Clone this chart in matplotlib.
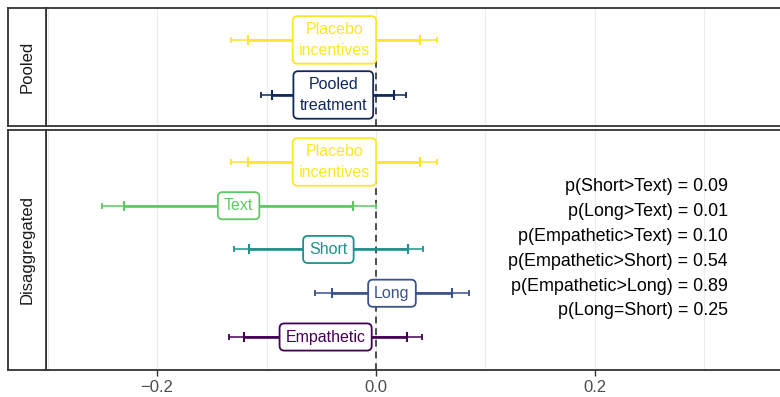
import matplotlib.pyplot as plt
import numpy as np

plt.rcParams['font.family'] = ['Liberation Sans', 'DejaVu Sans']

# pooled panel (rows from bottom to top)
pooled_labels = ["Pooled\ntreatment", "Placebo\nincentives"]
pooled_est = [-0.039, -0.038]
pooled_lo95 = [-0.105, -0.132]
pooled_hi95 = [0.027, 0.056]
pooled_lo_in = [-0.095, -0.117]
pooled_hi_in = [0.016, 0.040]
pooled_colors = ["#11295A", "#FDE725"]

# disaggregated panel (rows from bottom to top)
dis_labels = ["Empathetic", "Long", "Short", "Text", "Placebo\nincentives"]
dis_est = [-0.046, 0.0146, -0.0435, -0.1255, -0.038]
dis_lo95 = [-0.1342, -0.0557, -0.1297, -0.2505, -0.132]
dis_hi95 = [0.0423, 0.0849, 0.0426, 0.0, 0.056]
dis_lo_in = [-0.1203, -0.0399, -0.1157, -0.2304, -0.117]
dis_hi_in = [0.0286, 0.0697, 0.0289, -0.0207, 0.040]
dis_colors = ["#440154", "#3B528B", "#21918C", "#5EC962", "#FDE725"]

pvals = ["p(Short>Text) = 0.09", "p(Long>Text) = 0.01", "p(Empathetic>Text) = 0.10",
         "p(Empathetic>Short) = 0.54", "p(Empathetic>Long) = 0.89", "p(Long=Short) = 0.25"]

W, H = 780, 397
fig = plt.figure(figsize=(W / 100, H / 100), dpi=100)

def px_box(x0, y0, x1, y1):
    return [x0 / W, 1 - y1 / H, (x1 - x0) / W, (y1 - y0) / H]

xlim = (-0.3014, 0.369)
edge = "#333333"

def draw_panel(ax, labels, est, lo95, hi95, lo_in, hi_in, colors, ylim, bottom_axis):
    ax.set_xlim(*xlim)
    ax.set_ylim(*ylim)
    for g in [-0.3, -0.2, -0.1, 0.0, 0.1, 0.2, 0.3]:
        ax.axvline(g, color="#EBEBEB", lw=0.8, zorder=0)
    ys = np.arange(1, len(labels) + 1)
    ax.vlines(0, ylim[0], ys[-1], color="#4D4D4D", lw=1.4, linestyles=(0, (3.5, 2.5)), zorder=1)
    for y, lab, e, a, b, c, d, col in zip(ys, labels, est, lo95, hi95, lo_in, hi_in, colors):
        ax.hlines(y, a, b, color=col, lw=1.1, zorder=2)
        ax.hlines(y, c, d, color=col, lw=1.9, zorder=2)
        ax.plot([a, b], [y, y], ls="none", marker="|", ms=4, mew=1.3, color=col, zorder=2)
        ax.plot([c, d], [y, y], ls="none", marker="|", ms=7, mew=1.5, color=col, zorder=2)
        ax.text(e, y, lab, ha="center", va="center", color=col, fontsize=11.5, zorder=3,
                linespacing=1.45,
                bbox=dict(boxstyle="round,pad=0.38,rounding_size=0.3", fc="white", ec=col, lw=1.3))
    ax.set_yticks([])
    ax.spines["right"].set_visible(False)
    for s in ["top", "bottom", "left"]:
        ax.spines[s].set_color(edge)
        ax.spines[s].set_linewidth(1.3)
    if bottom_axis:
        ax.set_xticks([-0.2, 0.0, 0.2])
        ax.set_xticklabels(["\u22120.2", "0.0", "0.2"])
        ax.tick_params(axis="x", length=4, width=1, color=edge, labelsize=12,
                       labelcolor="#4D4D4D", pad=3)
    else:
        ax.set_xticks([])

def draw_strip(rect, text):
    sax = fig.add_axes(rect)
    sax.set_xticks([])
    sax.set_yticks([])
    for s in sax.spines.values():
        s.set_color(edge)
        s.set_linewidth(1.3)
    sax.text(0.5, 0.5, text, rotation=90, ha="center", va="center", fontsize=12,
             color="#1A1A1A", transform=sax.transAxes)

ax_top = fig.add_axes(px_box(46, 8, W, 126))
draw_panel(ax_top, pooled_labels, pooled_est, pooled_lo95, pooled_hi95,
           pooled_lo_in, pooled_hi_in, pooled_colors, (0.436, 2.58), False)
draw_strip(px_box(8, 8, 46, 126), "Pooled")

ax_bot = fig.add_axes(px_box(46, 130, W, 370))
draw_panel(ax_bot, dis_labels, dis_est, dis_lo95, dis_hi95,
           dis_lo_in, dis_hi_in, dis_colors, (0.246, 5.73), True)
draw_strip(px_box(8, 130, 46, 370), "Disaggregated")

for i, t in enumerate(pvals):
    ax_bot.text(0.3215, 4.43 - 0.567 * i, t, ha="right", va="center", fontsize=12.9,
                color="black", zorder=4)

fig.savefig("out.png", dpi=100)
